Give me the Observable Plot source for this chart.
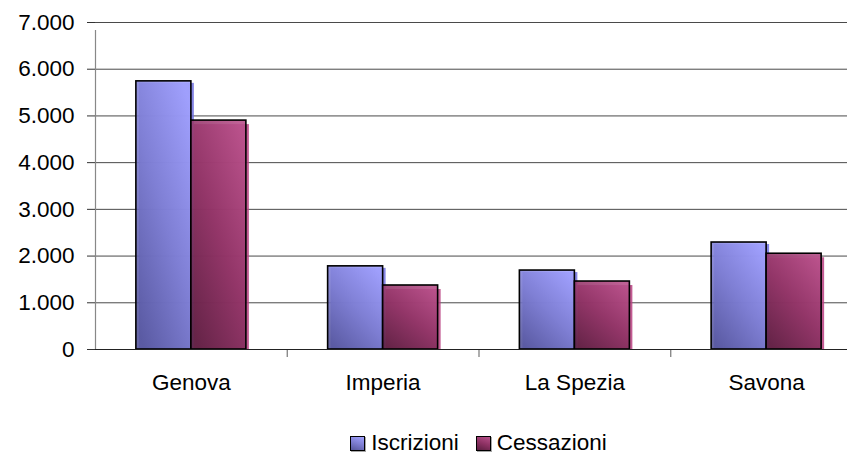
<!DOCTYPE html>
<html>
<head>
<meta charset="utf-8">
<script src="https://cdn.jsdelivr.net/npm/d3@7"></script>
<script src="https://cdn.jsdelivr.net/npm/@observablehq/plot@0.6"></script>
<style>
  html, body { margin: 0; padding: 0; background: #fff; overflow: hidden; }
  #chart svg { display: block; overflow: hidden; }
  .legend { width: 767px; margin-left: 95px; height: 24px; margin-top: 11px;
    display: flex; justify-content: center; align-items: center;
    font-family: "Liberation Sans", Arial, sans-serif; font-size: 22.5px; color: #000; }
  .legend .item { display: flex; align-items: center; margin: 0 8.5px; }
  .legend .sw { width: 13px; height: 13px; border: 1px solid #000; margin-right: 6px;
    box-shadow: 1px 1px 0 rgba(0,0,0,0.35); }
</style>
</head>
<body>
<div id="chart"></div>
<script>
const categories = ["Genova", "Imperia", "La Spezia", "Savona"];
const seriesNames = ["Iscrizioni", "Cessazioni"];
const iscrizioni = [5740, 1780, 1690, 2290];
const cessazioni = [4900, 1370, 1455, 2050];
const yTicks = [0, 1000, 2000, 3000, 4000, 5000, 6000, 7000];

const colors = {
  Iscrizioni: ["#a2a2ff", "#7e7ed2", "#56569c"],
  Cessazioni: ["#b8508a", "#8e3264", "#5c1e40"]
};

const rowsI = categories.map((c, i) => ({cat: c, value: iscrizioni[i]}));
const rowsC = categories.map((c, i) => ({cat: c, value: cessazioni[i]}));

const width = 847, height = 420;
const marginLeft = 95, marginRight = -15, marginTop = 22, marginBottom = 71;
const step = (width - marginLeft - marginRight) / categories.length;
const half = step / 2;
const barW = 55;

const itLocale = d3.formatLocale({decimal: ",", thousands: ".", grouping: [3], currency: ["", "€"]});
const fmt = itLocale.format(",");

function defs() {
  const d = d3.create("svg:defs");
  for (const [key, id] of [["Iscrizioni", "gI"], ["Cessazioni", "gC"]]) {
    const g = d.append("linearGradient").attr("id", id)
      .attr("x1", 0.85).attr("y1", 0).attr("x2", 0.15).attr("y2", 1);
    g.append("stop").attr("offset", "0%").attr("stop-color", colors[key][0]);
    g.append("stop").attr("offset", "50%").attr("stop-color", colors[key][1]);
    g.append("stop").attr("offset", "100%").attr("stop-color", colors[key][2]);
  }
  return d.node();
}

const chart = Plot.plot({
  width, height, marginLeft, marginRight, marginTop, marginBottom,
  style: {fontFamily: "'Liberation Sans', Arial, sans-serif", fontSize: "22.5px", color: "#000", background: "#fff"},
  x: {domain: categories, padding: 0, round: false, label: null},
  y: {domain: [0, 7000], label: null},
  marks: [
    defs,
    Plot.ruleY(yTicks.slice(1), {stroke: "#4a4a4a", strokeWidth: 1}),
    // y axis line
    Plot.ruleX([categories[0]], {x: d => d, y1: 0, y2: 7000, insetBottom: -8, dx: -half, stroke: "#888", strokeWidth: 1.2}),
    // category boundary ticks
    Plot.ruleX(categories.slice(1), {x: d => d, y1: 0, y2: 0, insetBottom: -8, dx: -half, stroke: "#777", strokeWidth: 1.2}),
    // shadows
    Plot.barY(rowsI, {x: "cat", y: "value", insetLeft: half - barW, insetRight: half, insetTop: 2, dx: 3, fill: "#7070e0", fillOpacity: 0.85}),
    Plot.barY(rowsC, {x: "cat", y: "value", insetLeft: half, insetRight: half - barW, insetTop: 4, dx: 3, fill: "#b84080", fillOpacity: 0.85}),
    // bars
    Plot.barY(rowsI, {x: "cat", y: "value", insetLeft: half - barW, insetRight: half, fill: "url(#gI)", fillOpacity: 0.9, stroke: "#000", strokeWidth: 1.6}),
    Plot.barY(rowsC, {x: "cat", y: "value", insetLeft: half, insetRight: half - barW, fill: "url(#gC)", fillOpacity: 0.9, stroke: "#000", strokeWidth: 1.6}),
    Plot.ruleY([0], {stroke: "#222", strokeWidth: 1.2}),
    Plot.axisY({ticks: yTicks, tickFormat: fmt, tickSize: 8, tickPadding: 13, stroke: "#333", fontSize: 22.5}),
    Plot.axisX({tickSize: 0, tickPadding: 25, fontSize: 22.5})
  ]
});

const root = document.getElementById("chart");
root.appendChild(chart);

const legend = document.createElement("div");
legend.className = "legend";
for (const name of seriesNames) {
  const item = document.createElement("div");
  item.className = "item";
  const sw = document.createElement("span");
  sw.className = "sw";
  sw.style.background = `linear-gradient(200deg, ${colors[name][0]}, ${colors[name][1]} 50%, ${colors[name][2]})`;
  const label = document.createElement("span");
  label.textContent = name;
  item.appendChild(sw);
  item.appendChild(label);
  legend.appendChild(item);
}
root.appendChild(legend);
</script>
</body>
</html>
